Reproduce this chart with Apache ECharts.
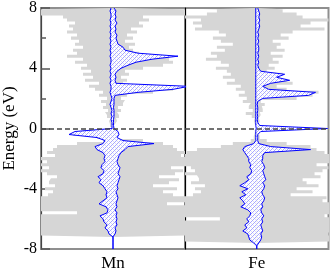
<!DOCTYPE html>
<html><head><meta charset="utf-8">
<script src="https://cdn.jsdelivr.net/npm/echarts@6/dist/echarts.min.js"></script>
<style>html,body{margin:0;padding:0;background:#fff}#c{width:332px;height:277px}</style>
</head><body><div id="c"></div>
<script>
// Energy grid (eV), category axis from -8 to 8 in 0.2 eV steps
const energy = [];
for (let i = 0; i <= 80; i++) energy.push(((i - 40) / 5).toFixed(1));
const majorTicks = [-8, -4, 0, 4, 8];
const minorTicks = [-6, -2, 2, 6];
const panels = ['Mn', 'Fe'];

// Total DOS (grey), magnitude per spin channel
const mnTotUp = [0,0,0,0,0, 8.0,8.0,8.0,7.6,8.0,
  8.0,8.0,7.4,8.0,8.0, 5.4,8.0,7.2,6.0,5.0,
  6.4,4.0,5.6,6.6,4.6, 6.2,7.0,5.8,7.2,8.0,
  8.0,6.8,8.0,6.4,6.0, 5.0,3.0,0.4,0.3,0.2,
  0,0.2,0.4,0.3,0.6, 0.4,0.8,0.5,1.0,1.2,
  0.8,1.4,4.0,6.0,3.0, 1.0,1.4,0.8,1.6,1.2,
  3.0,5.0,6.0,5.6,4.0, 2.6,2.0,1.6,2.2,1.2,
  2.0,1.4,2.4,1.8,3.0, 2.6,3.6,3.0,8.0,8.0,
  8.0];
const mnTotDown = [0,0,0,0,0, 8.0,8.0,8.0,8.0,8.0,
  8.0,7.5,3.6,8.0,8.0, 8.0,8.0,7.8,6.5,6.0,
  6.8,5.8,6.4,6.2,5.6, 6.6,7.2,6.4,8.0,6.6,
  7.2,5.8,6.6,6.0,5.6, 3.6,1.0,1.6,4.0,3.0,
  0,0.3,0.4,0.2,0.6, 0.8,0.5,1.0,0.7,1.2,
  0.6,1.4,1.0,1.8,2.4, 1.4,2.8,2.0,3.0,2.2,
  3.2,2.6,3.8,3.0,4.6, 3.6,4.0,3.0,3.8,3.4,
  4.2,3.6,4.6,4.0,4.4, 3.8,4.6,5.0,8.0,8.0,
  8.0];
const feTotUp = [0,0,0,7.6,8.0, 7.2,8.0,8.0,7.4,8.0,
  8.0,6.8,8.0,8.0,7.6, 8.0,6.6,7.0,3.4,5.6,
  4.0,6.2,5.0,4.6,6.4, 5.8,6.6,7.2,6.0,8.0,
  7.4,8.0,6.8,6.0,5.4, 3.0,1.0,0.3,0.2,0.2,
  1.0,0.2,0.3,0.2,0.4, 0.3,0.6,0.5,0.8,0.4,
  4.0,5.6,6.2,3.0,2.0, 3.6,3.0,2.2,2.6,1.0,
  1.8,1.2,2.2,1.6,2.6, 1.4,2.8,2.0,2.4,1.6,
  3.2,2.4,3.6,6.8,4.4, 5.4,7.2,4.6,4.0,2.6,
  3.0];
const feTotDown = [0,0,0,8.0,8.0, 8.0,8.0,8.0,7.8,8.0,
  3.7,8.0,8.0,8.0,8.0, 8.0,7.6,8.0,6.4,5.6,
  6.2,5.2,6.6,5.8,6.0, 7.2,6.2,6.6,8.0,8.0,
  7.2,8.0,7.0,6.0,3.6, 2.4,0.6,0.3,0.2,0.2,
  0,0.2,0.3,0.2,0.5, 1.1,0.4,0.8,0.6,1.4,
  1.0,1.8,1.2,2.1,1.6, 3.0,2.2,3.4,2.6,3.0,
  4.1,2.8,3.6,5.1,4.0, 4.6,3.2,4.0,2.4,3.6,
  4.4,3.1,3.8,6.2,5.5, 6.4,5.6,7.2,5.0,4.0,
  5.4];

// Projected d DOS (blue)
const mnPdUp = [0,0,0,0,0, 0.2,0.3,0.2,0.4,0.3,
  0.4,0.3,0.4,0.2,0.4, 0.3,0.4,0.5,0.4,0.3,
  0.5,0.4,0.5,0.6,0.7, 0.5,0.6,0.7,0.5,0.4,
  0.5,0.6,0.8,1.2,1.5, 4.1,1.0,0.4,0.6,0.5,
  0.1,0.05,0.05,0.05,0.1, 0.1,0.1,0.05,0.1,0.1,
  0.1,0.2,2.5,6.0,7.6, 0.3,0.2,0.3,0.2,0.4,
  0.8,1.5,2.3,3.9,6.5, 2.5,1.2,1.0,0.5,0.4,
  0.3,0.4,0.2,0.3,0.2, 0.4,0.2,0.3,0.2,0.3,
  0.1];
const mnPdDown = [0,0,0,0,0, 0.4,0.5,0.8,0.6,0.9,
  1.0,1.3,0.6,0.5,0.7, 1.4,1.0,0.6,0.7,0.6,
  0.8,1.0,1.4,1.2,1.5, 1.0,0.9,1.2,1.1,0.8,
  0.9,0.8,1.0,1.6,1.8, 1.0,0.8,1.6,4.4,3.8,
  0.1,0.1,0.1,0.2,0.1, 0.2,0.1,0.2,0.3,0.2,
  0.1,0.2,0.3,0.2,0.2, 0.3,0.2,0.3,0.2,0.3,
  0.2,0.3,0.2,0.2,0.3, 0.2,0.3,0.2,0.3,0.2,
  0.3,0.2,0.3,0.2,0.3, 0.2,0.3,0.2,0.2,0.3,
  0.2];
const fePdUp = [0,0,0.2,0.4,0.5, 0.4,0.6,0.5,0.4,0.6,
  0.5,0.7,0.5,0.4,0.6, 0.5,0.7,0.8,0.6,0.5,
  0.7,0.8,0.6,0.9,0.8, 0.7,0.6,0.8,0.7,0.5,
  0.6,0.6,0.8,5.4,1.4, 0.2,0.1,0.1,0.1,0.4,
  7.1,0.3,0.1,0.05,0.1, 0.05,0.1,0.1,0.05,0.1,
  0.6,5.2,5.9,1.2,0.6, 1.4,3.3,2.0,2.8,0.4,
  0.2,0.1,0.2,0.1,0.2, 0.1,0.2,0.2,0.1,0.2,
  0.1,0.2,0.1,0.2,0.3, 0.2,0.3,0.2,0.3,0.2,
  0.1];
const fePdDown = [0,0,0.3,0.7,0.8, 0.9,1.4,1.0,1.2,0.8,
  1.0,0.7,0.6,0.9,1.6, 1.2,1.4,1.7,1.1,1.5,
  0.9,1.7,1.2,0.8,1.0, 0.6,0.5,0.7,0.6,0.8,
  0.8,1.0,1.2,1.4,1.2, 0.3,0.1,0.1,0.1,0.1,
  0.05,0.1,0.1,0.1,0.1, 0.1,0.1,0.1,0.1,0.1,
  0.1,0.1,0.1,0.1,0.1, 0.1,0.1,0.1,0.1,0.1,
  0.1,0.1,0.1,0.1,0.1, 0.1,0.1,0.1,0.1,0.1,
  0.1,0.1,0.1,0.1,0.1, 0.1,0.1,0.1,0.1,0.1,
  0.1];

const SERIF = '"Liberation Serif","Times New Roman",serif';

function makeHatch() {
  const c = document.createElement('canvas');
  c.width = 4; c.height = 4;
  const g = c.getContext('2d');
  g.fillStyle = '#ffffff'; g.fillRect(0, 0, 4, 4);
  g.fillStyle = 'rgba(60,60,255,0.45)';
  [[0,0],[2,2],[1,3],[3,1]].forEach(p => g.fillRect(p[0], p[1], 1, 1));
  g.fillStyle = 'rgba(160,160,230,0.35)';
  [[1,1],[3,3]].forEach(p => g.fillRect(p[0], p[1], 1, 1));
  return c;
}
const hatch = makeHatch();

function isE(list) {
  return (idx) => list.indexOf(Math.round(parseFloat(energy[idx]) * 10) / 10) >= 0;
}

function totSeries(vals, sign, gi) {
  return {
    type: 'line', xAxisIndex: gi, yAxisIndex: gi, data: vals.map(v => sign * v),
    step: 'middle', symbol: 'none', silent: true, z: 2,
    lineStyle: { width: 0, opacity: 0 },
    areaStyle: { color: '#d6d6d6', opacity: 1 }
  };
}
function pdSeries(vals, sign, gi, withLine) {
  const s = {
    type: 'line', xAxisIndex: gi, yAxisIndex: gi, data: vals.map(v => sign * v),
    symbol: 'none', silent: true, z: 3,
    lineStyle: { color: '#0000ff', width: 1 },
    areaStyle: { color: { image: hatch, repeat: 'repeat' }, opacity: 1 }
  };
  if (withLine) {
    s.markLine = {
      silent: true, symbol: ['none', 'none'], animation: false,
      label: { show: false },
      lineStyle: { color: '#444', type: [5, 3], width: 1.5 },
      data: [{ yAxis: energy.indexOf('0.0') }]
    };
  }
  return s;
}

const chart = echarts.init(document.getElementById('c'), null, { renderer: 'canvas' });
const gridBase = { top: 8, bottom: 23, show: true, borderColor: '#8f8f8f', borderWidth: 2, backgroundColor: 'transparent' };
const xAx = (gi) => ({
  gridIndex: gi, type: 'value', min: -7.2, max: 7.2,
  axisLine: { show: false }, axisTick: { show: false }, axisLabel: { show: false }, splitLine: { show: false },
  name: panels[gi], nameLocation: 'middle', nameGap: 6,
  nameTextStyle: { fontFamily: SERIF, fontSize: 17, color: '#000', verticalAlign: 'top' }
});

chart.setOption({
  animation: false,
  grid: [
    Object.assign({ left: 41, right: 147 }, gridBase),
    Object.assign({ left: 185, right: 3.5 }, gridBase)
  ],
  xAxis: [xAx(0), xAx(1)],
  yAxis: [
    {
      gridIndex: 0, type: 'category', data: energy, boundaryGap: false, position: 'left',
      axisLine: { show: true, onZero: false, lineStyle: { color: '#444', width: 1.2 } },
      axisTick: { show: true, inside: true, length: 9, interval: isE(majorTicks), lineStyle: { color: '#555', width: 1.5 } },
      axisLabel: { show: true, interval: isE(majorTicks), margin: 4, color: '#000', fontFamily: SERIF, fontSize: 16,
        formatter: v => String(parseFloat(v)) },
      splitLine: { show: false },
      name: 'Energy (eV)', nameLocation: 'middle', nameGap: 23,
      nameTextStyle: { fontFamily: SERIF, fontSize: 17, color: '#000' }
    },
    {
      gridIndex: 1, type: 'category', data: energy, boundaryGap: false, position: 'left',
      axisLine: { show: true, onZero: false, lineStyle: { color: '#000', width: 1.2 } },
      axisTick: { show: false }, axisLabel: { show: false }, splitLine: { show: false }
    },
    {
      gridIndex: 0, type: 'category', data: energy, boundaryGap: false, position: 'left',
      axisLine: { show: false, onZero: false },
      axisTick: { show: true, inside: true, length: 5, interval: isE(minorTicks), lineStyle: { color: '#555', width: 1.5 } },
      axisLabel: { show: false }, splitLine: { show: false }
    }
  ],
  series: [
    totSeries(mnTotUp, 1, 0), totSeries(mnTotDown, -1, 0),
    pdSeries(mnPdUp, 1, 0, false), pdSeries(mnPdDown, -1, 0, true),
    totSeries(feTotUp, 1, 1), totSeries(feTotDown, -1, 1),
    pdSeries(fePdUp, 1, 1, false), pdSeries(fePdDown, -1, 1, true)
  ]
});
</script>
</body></html>
